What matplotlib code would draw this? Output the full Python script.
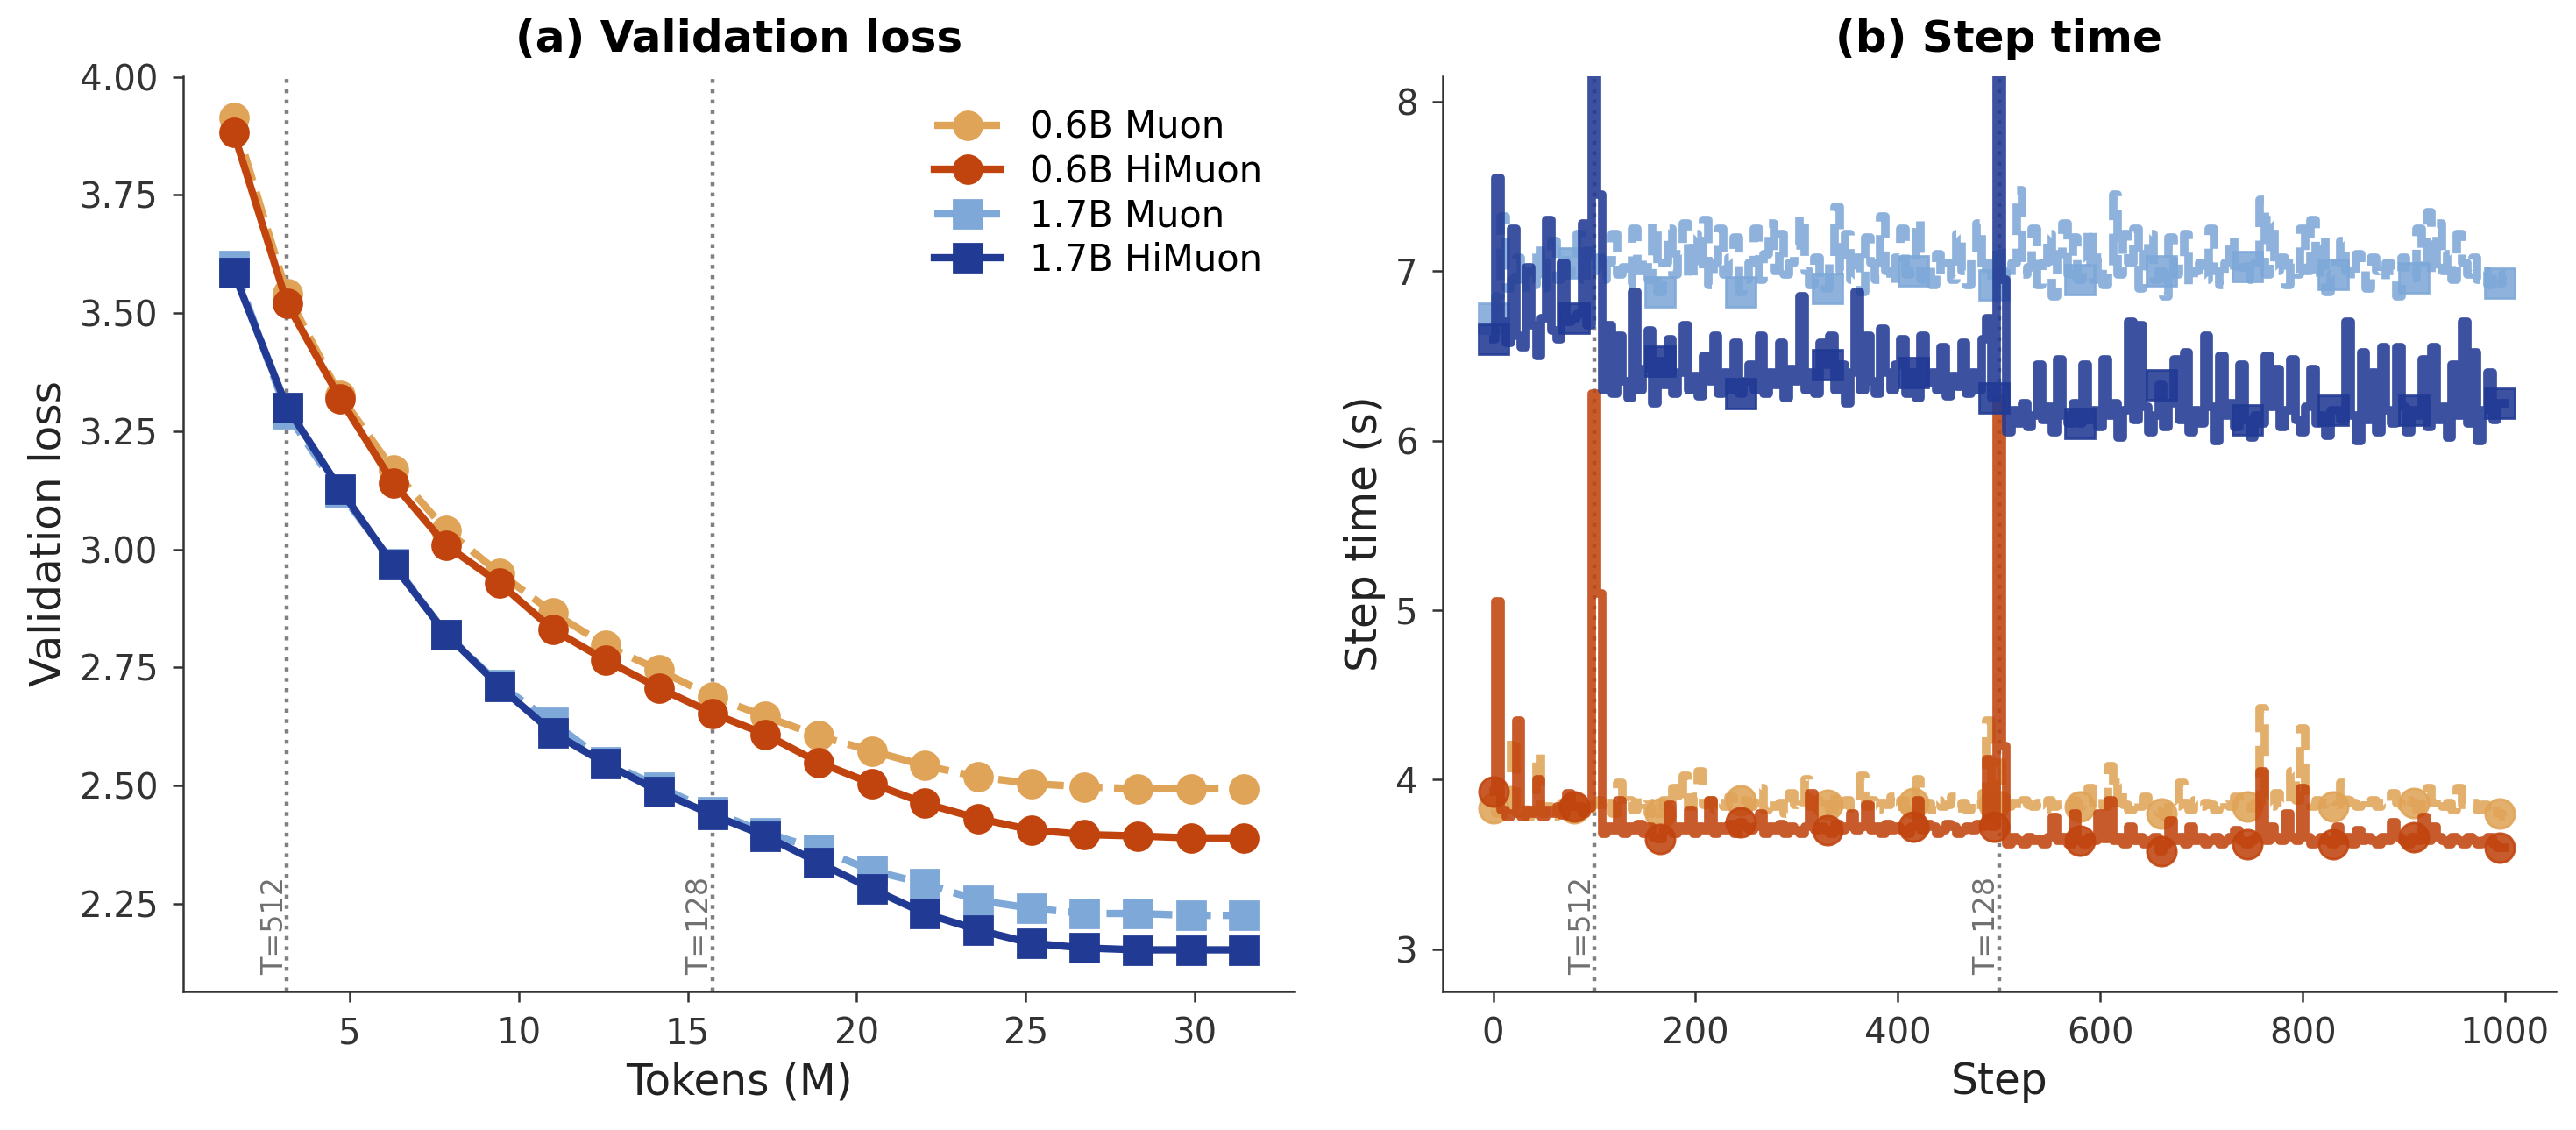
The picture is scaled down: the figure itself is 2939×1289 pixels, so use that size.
import numpy as np
import matplotlib
matplotlib.use("Agg")
import matplotlib.pyplot as plt
from matplotlib.ticker import FormatStrFormatter

# ---------------- data ----------------
# (a) validation loss, one eval every 50 steps
tokens_m = [1.57, 3.15, 4.72, 6.29, 7.86, 9.44, 11.01, 12.58, 14.16, 15.73,
            17.30, 18.87, 20.45, 22.02, 23.59, 25.17, 26.74, 28.31, 29.88, 31.46]

loss_06_muon = [3.913, 3.540, 3.325, 3.168, 3.040, 2.949, 2.866, 2.796, 2.744, 2.688,
                2.646, 2.605, 2.573, 2.542, 2.518, 2.504, 2.497, 2.493, 2.493, 2.493]
loss_06_himuon = [3.882, 3.520, 3.318, 3.140, 3.008, 2.928, 2.830, 2.765, 2.706, 2.653,
                  2.608, 2.549, 2.504, 2.462, 2.430, 2.406, 2.396, 2.393, 2.389, 2.389]
loss_17_muon = [3.600, 3.287, 3.120, 2.970, 2.820, 2.713, 2.633, 2.550, 2.497, 2.445,
                2.400, 2.365, 2.320, 2.292, 2.257, 2.240, 2.229, 2.229, 2.225, 2.225]
loss_17_himuon = [3.586, 3.300, 3.127, 2.967, 2.820, 2.709, 2.612, 2.546, 2.487, 2.438,
                  2.393, 2.337, 2.281, 2.229, 2.194, 2.166, 2.156, 2.152, 2.152, 2.152]

# (b) step time (s), read every 5 steps
steps = list(range(0, 1001, 5))

time_17_himuon = [
    6.60, 7.55, 6.70, 6.58, 7.25, 6.62, 6.55, 7.02, 6.68, 6.50,
    6.72, 7.30, 6.65, 6.60, 7.05, 6.70, 6.72, 6.75, 7.28, 6.68,
    8.60, 7.45, 6.30, 6.68, 6.28, 6.62, 6.35, 6.25, 6.88, 6.30,
    6.42, 6.65, 6.22, 6.47, 6.33, 6.60, 6.28, 6.40, 6.68, 6.30,
    6.38, 6.26, 6.50, 6.35, 6.62, 6.28, 6.40, 6.30, 6.58, 6.28,
    6.35, 6.45, 6.30, 6.62, 6.28, 6.40, 6.33, 6.58, 6.25, 6.42,
    6.35, 6.85, 6.30, 6.40, 6.28, 6.58, 6.45, 6.62, 6.30, 6.45,
    6.22, 6.40, 6.88, 6.30, 6.62, 6.35, 6.28, 6.66, 6.40, 6.30,
    6.45, 6.60, 6.28, 6.40, 6.25, 6.62, 6.34, 6.40, 6.30, 6.55,
    6.26, 6.38, 6.32, 6.58, 6.28, 6.40, 6.30, 6.60, 6.72, 6.25,
    8.60, 6.95, 6.05, 6.18, 6.10, 6.22, 6.08, 6.15, 6.45, 6.12,
    6.20, 6.05, 6.48, 6.15, 6.10, 6.22, 6.10, 6.45, 6.12, 6.18,
    6.08, 6.48, 6.15, 6.22, 6.02, 6.18, 6.70, 6.12, 6.68, 6.20,
    6.05, 6.15, 6.33, 6.08, 6.22, 6.48, 6.12, 6.52, 6.05, 6.18,
    6.10, 6.62, 6.20, 6.00, 6.50, 6.15, 6.22, 6.08, 6.45, 6.12,
    6.02, 6.15, 6.10, 6.50, 6.20, 6.42, 6.08, 6.18, 6.48, 6.12,
    6.05, 6.20, 6.42, 6.10, 6.15, 6.03, 6.18, 6.18, 6.12, 6.70,
    6.15, 6.00, 6.52, 6.12, 6.40, 6.05, 6.55, 6.18, 6.10, 6.55,
    6.20, 6.05, 6.18, 6.15, 6.48, 6.08, 6.55, 6.12, 6.20, 6.02,
    6.45, 6.15, 6.70, 6.10, 6.52, 6.00, 6.18, 6.40, 6.12, 6.22,
    6.22]

time_17_muon = [
    6.72, 6.85, 7.32, 6.90, 6.95, 7.08, 6.88, 7.00, 6.92, 7.15,
    6.90, 7.05, 7.18, 6.95, 7.10, 6.98, 7.05, 7.22, 6.95, 7.12,
    7.00, 7.08, 6.95, 7.05, 7.22, 6.98, 7.02, 6.92, 7.25, 7.00,
    7.08, 6.95, 7.28, 6.88, 7.05, 7.25, 6.98, 7.10, 7.28, 6.95,
    7.22, 7.00, 7.30, 6.92, 7.05, 7.25, 6.98, 7.08, 7.20, 6.88,
    6.95, 7.05, 7.25, 6.95, 7.10, 7.28, 7.00, 7.22, 6.98, 7.05,
    7.15, 7.32, 7.00, 6.92, 7.08, 6.95, 6.90, 7.05, 7.38, 7.00,
    7.22, 6.95, 7.08, 6.88, 7.20, 7.05, 6.95, 7.32, 7.00, 6.92,
    7.08, 7.25, 6.98, 7.00, 7.30, 6.95, 7.05, 6.92, 7.10, 6.98,
    7.05, 6.95, 7.22, 7.00, 6.92, 7.10, 7.28, 6.98, 7.05, 6.92,
    7.15, 7.00, 6.95, 7.05, 7.48, 6.98, 7.02, 7.25, 6.92, 7.05,
    7.22, 6.85, 7.10, 7.28, 6.98, 7.20, 6.95, 7.05, 7.25, 6.95,
    7.08, 6.92, 7.00, 7.45, 6.98, 7.22, 7.05, 7.25, 6.90, 7.10,
    7.22, 6.95, 7.00, 6.85, 7.20, 6.98, 7.05, 7.22, 6.92, 7.00,
    7.05, 6.95, 7.25, 7.00, 6.92, 7.05, 7.20, 6.98, 7.02, 7.03,
    6.95, 7.05, 7.42, 6.98, 7.30, 7.00, 7.08, 6.92, 7.05, 6.98,
    7.25, 7.00, 7.30, 6.95, 7.20, 6.88, 6.98, 7.05, 7.18, 7.00,
    6.95, 7.10, 7.05, 6.90, 7.08, 7.00, 6.95, 7.05, 7.00, 6.85,
    7.08, 7.02, 6.96, 7.25, 7.05, 7.35, 6.98, 7.28, 7.00, 7.10,
    6.95, 7.22, 7.05, 6.98, 7.08, 6.95, 7.00, 6.92, 6.98, 6.93,
    6.98]

time_06_muon = [
    3.83, 3.80, 3.90, 3.82, 4.25, 3.80, 3.85, 3.78, 3.82, 4.15,
    3.80, 3.84, 3.78, 3.82, 3.86, 3.80, 3.83, 3.79, 3.84, 3.80,
    3.85, 3.88, 3.82, 3.86, 3.80, 3.98, 3.84, 3.88, 3.82, 3.90,
    3.85, 3.80, 3.86, 3.80, 3.88, 3.82, 3.95, 3.86, 4.02, 3.84,
    3.90, 4.05, 3.85, 3.88, 3.82, 3.86, 3.84, 3.90, 3.85, 3.88,
    3.88, 3.84, 3.86, 3.95, 3.82, 3.88, 3.84, 3.86, 3.80, 3.92,
    3.85, 3.82, 4.00, 3.84, 3.88, 3.83, 3.85, 3.82, 3.92, 3.85,
    3.88, 3.83, 3.86, 4.02, 3.84, 3.88, 3.82, 3.86, 3.85, 3.90,
    3.84, 3.88, 3.82, 3.86, 4.00, 3.84, 3.86, 3.82, 3.88, 3.84,
    3.85, 3.90, 3.83, 3.86, 3.82, 3.88, 3.85, 3.92, 4.35, 3.85,
    4.10, 3.90, 3.84, 3.86, 3.82, 3.88, 3.85, 3.84, 3.86, 3.82,
    3.88, 3.84, 3.85, 3.86, 3.83, 3.88, 3.84, 3.85, 3.95, 3.86,
    3.90, 3.84, 4.08, 3.86, 3.98, 3.85, 3.82, 3.88, 3.84, 3.90,
    3.86, 3.82, 3.80, 3.78, 3.86, 3.84, 3.98, 3.85, 3.82, 3.88,
    3.84, 3.86, 3.85, 3.82, 3.88, 3.85, 3.84, 3.90, 3.86, 3.84,
    3.83, 3.86, 4.42, 3.88, 3.84, 3.92, 3.86, 3.85, 4.05, 3.88,
    4.30, 3.86, 3.84, 3.88, 3.85, 3.86, 3.84, 3.85, 3.98, 3.88,
    3.86, 3.84, 3.90, 3.86, 3.88, 3.84, 3.86, 3.85, 3.92, 3.86,
    3.84, 3.88, 3.86, 3.82, 3.85, 3.95, 3.86, 3.90, 3.84, 3.86,
    3.82, 3.95, 3.85, 3.84, 3.86, 3.82, 3.85, 3.84, 3.86, 3.80,
    3.78]

time_06_himuon = [
    3.93, 5.05, 3.82, 3.78, 3.80, 4.35, 3.78, 3.82, 3.80, 4.00,
    3.78, 3.82, 3.80, 3.84, 3.79, 3.92, 3.84, 3.84, 3.80, 3.83,
    6.28, 5.10, 3.68, 3.72, 3.70, 3.88, 3.68, 3.72, 3.70, 3.74,
    3.68, 3.72, 3.66, 3.65, 3.70, 3.85, 3.68, 3.72, 3.70, 3.82,
    3.68, 3.72, 3.70, 3.88, 3.68, 3.72, 3.70, 3.74, 3.68, 3.75,
    3.72, 3.70, 3.72, 3.80, 3.68, 3.72, 3.70, 3.74, 3.68, 3.72,
    3.70, 3.68, 3.72, 3.92, 3.70, 3.72, 3.70, 3.68, 3.74, 3.70,
    3.72, 3.80, 3.70, 3.72, 3.85, 3.70, 3.72, 3.68, 3.74, 3.70,
    3.72, 3.70, 3.68, 3.72, 3.88, 3.70, 3.74, 3.72, 3.68, 3.70,
    3.74, 3.72, 3.68, 3.70, 3.72, 3.70, 3.74, 3.72, 4.12, 3.72,
    6.25, 4.20, 3.62, 3.66, 3.64, 3.62, 3.66, 3.64, 3.65, 3.62,
    3.66, 3.78, 3.64, 3.66, 3.62, 3.80, 3.64, 3.62, 3.66, 3.64,
    3.80, 3.65, 3.88, 3.64, 3.66, 3.62, 3.72, 3.64, 3.66, 3.62,
    3.64, 3.66, 3.58, 3.62, 3.76, 3.64, 3.66, 3.62, 3.72, 3.64,
    3.66, 3.62, 3.64, 3.66, 3.62, 3.64, 3.66, 3.70, 3.64, 3.62,
    3.64, 3.66, 4.05, 3.64, 3.72, 3.66, 3.64, 3.80, 3.66, 3.64,
    3.95, 3.66, 3.62, 3.64, 3.66, 3.64, 3.62, 3.72, 3.64, 3.66,
    3.62, 3.70, 3.64, 3.66, 3.64, 3.62, 3.66, 3.64, 3.75, 3.66,
    3.64, 3.62, 3.66, 3.64, 3.78, 3.64, 3.72, 3.66, 3.64, 3.62,
    3.66, 3.64, 3.62, 3.66, 3.64, 3.62, 3.64, 3.66, 3.62, 3.60,
    3.60]

# chunk-size switches
switch_steps = [100, 500]
switch_tokens = [3.146, 15.73]
switch_labels = ["T=512", "T=128"]

# ---------------- style ----------------
C_06_MUON = "#E0A458"
C_06_HI = "#C1440E"
C_17_MUON = "#7EA8D8"
C_17_HI = "#213A94"

plt.rcParams["font.family"] = "DejaVu Sans"
plt.rcParams["axes.edgecolor"] = "#333333"
plt.rcParams["axes.linewidth"] = 0.9
plt.rcParams["xtick.color"] = "#333333"
plt.rcParams["ytick.color"] = "#333333"
plt.rcParams["xtick.major.size"] = 4.2
plt.rcParams["ytick.major.size"] = 4.2
plt.rcParams["xtick.major.width"] = 0.9
plt.rcParams["ytick.major.width"] = 0.9
plt.rcParams["xtick.major.pad"] = 6
plt.rcParams["ytick.major.pad"] = 6

fig = plt.figure(figsize=(14.695, 6.445), dpi=200)
ax1 = fig.add_axes([0.0711, 0.1226, 0.4315, 0.8099])
ax2 = fig.add_axes([0.5600, 0.1226, 0.4321, 0.8099])

series = [
    ("0.6B Muon", C_06_MUON, "o", "--"),
    ("0.6B HiMuon", C_06_HI, "o", "-"),
    ("1.7B Muon", C_17_MUON, "s", "--"),
    ("1.7B HiMuon", C_17_HI, "s", "-"),
]

# (a) validation loss
for (lab, col, mk, ls), ys in zip(series, [loss_06_muon, loss_06_himuon, loss_17_muon, loss_17_himuon]):
    ax1.plot(tokens_m, ys, color=col, marker=mk, linestyle=ls, linewidth=3,
             markersize=11.5, label=lab, zorder=3)

for x, lab in zip(switch_tokens, switch_labels):
    ax1.axvline(x, color="#808080", linestyle=":", linewidth=1.6, zorder=1)
    ax1.annotate(lab, xy=(x, 0.0), xycoords=("data", "axes fraction"),
                 xytext=(1, 7), textcoords="offset points", rotation=90,
                 ha="right", va="bottom", fontsize=12, color="#707070")

ax1.set_title("(a) Validation loss", fontsize=18, fontweight="bold", pad=10)
ax1.set_xlabel("Tokens (M)", fontsize=17.5, color="#222222")
ax1.set_ylabel("Validation loss", fontsize=17.5, color="#222222")
ax1.set_xticks([5, 10, 15, 20, 25, 30])
ax1.set_yticks([2.25, 2.50, 2.75, 3.00, 3.25, 3.50, 3.75, 4.00])
ax1.yaxis.set_major_formatter(FormatStrFormatter("%.2f"))
ax1.tick_params(labelsize=14.5)
ax1.legend(loc="upper right", fontsize=15, frameon=False, handlelength=1.8,
           labelspacing=0.2)

# (b) step time
mark_idx = [0, 16, 33, 49, 66, 83, 99, 116, 132, 149, 166, 182, 199]
for (lab, col, mk, ls), ys in zip(series, [time_06_muon, time_06_himuon, time_17_muon, time_17_himuon]):
    ax2.plot(steps, ys, color=col, marker=mk, linestyle=ls, linewidth=3.5,
             drawstyle="steps-mid", markersize=12, markevery=mark_idx,
             alpha=0.88, label=lab, zorder=3)

for x, lab in zip(switch_steps, switch_labels):
    ax2.axvline(x, color="#808080", linestyle=":", linewidth=1.6, zorder=1)
    ax2.annotate(lab, xy=(x, 0.0), xycoords=("data", "axes fraction"),
                 xytext=(1, 7), textcoords="offset points", rotation=90,
                 ha="right", va="bottom", fontsize=12, color="#707070")

ax2.set_ylim(2.75, 8.15)
ax2.set_xlim(-50, 1050)
ax2.set_title("(b) Step time", fontsize=18, fontweight="bold", pad=10)
ax2.set_xlabel("Step", fontsize=17.5, color="#222222")
ax2.set_ylabel("Step time (s)", fontsize=17.5, color="#222222")
ax2.set_xticks([0, 200, 400, 600, 800, 1000])
ax2.set_yticks([3, 4, 5, 6, 7, 8])
ax2.tick_params(labelsize=14.5)

for ax in (ax1, ax2):
    ax.spines["top"].set_visible(False)
    ax.spines["right"].set_visible(False)

fig.savefig("out.png", dpi=200)
